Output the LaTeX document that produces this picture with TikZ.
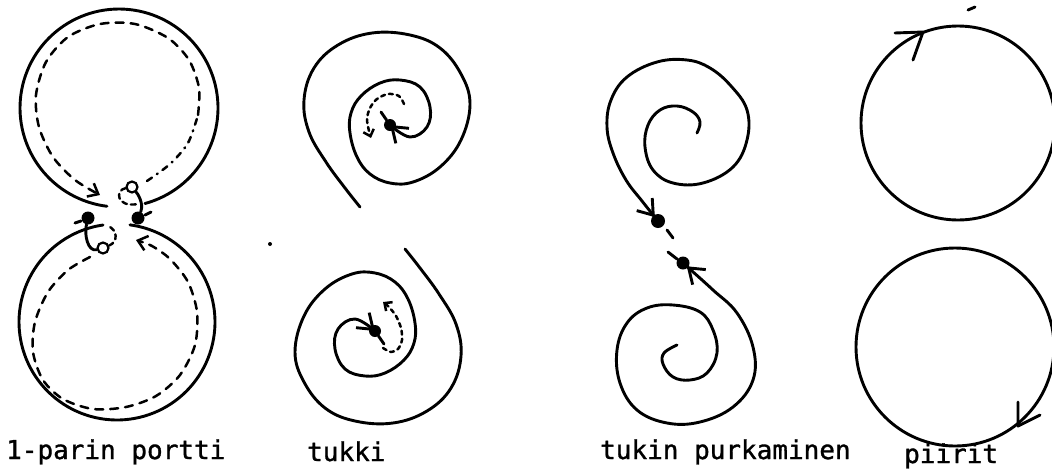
\documentclass[tikz,border=0pt]{standalone}
\usepackage{fontspec}
\newfontfamily\typew[FakeBold=1.2]{DejaVu Sans Mono}
\usetikzlibrary{arrows.meta}
\begin{document}
\begin{tikzpicture}[x=1pt,y=-1pt,
  ink/.style={line width=2.9pt, line cap=round, line join=round},
  dashink/.style={ink, line width=2.5pt, dash pattern=on 8pt off 7pt},
  dotink/.style={ink, line width=2.5pt, dash pattern=on 4pt off 4pt},
  dashdot/.style={ink, line width=2.5pt, dash pattern=on 6pt off 6pt on 1pt off 6pt},
  blob/.style={circle, fill=black, minimum size=13pt, inner sep=0pt},
  ring/.style={circle, draw, line width=2.2pt, minimum size=11pt, inner sep=0pt},
  barb/.style={-{Straight Barb[length=9pt,width=15pt]}},
  smallbarb/.style={-{Straight Barb[length=6pt,width=11pt]}},
  bigbarb/.style={-{Straight Barb[length=14pt,width=20pt]}},
  lbl/.style={font=\typew\fontsize{26}{26}\selectfont, anchor=base west, inner sep=0pt}
]
\useasboundingbox (0,0) rectangle (1052,472);

% ---------- panel 1: 1-parin portti ----------
\draw[ink] plot[domain=97:434.8, samples=120] ({119+99*cos(\x)},{108+99*sin(\x)});
\draw[ink] plot[domain=277.6:621.8, samples=120] ({117+98*cos(\x)},{322+98*sin(\x)});

\draw[dashdot] plot[smooth] coordinates {(147,181) (170,164) (188,143) (198,115)};
\draw[dashink, barb] plot[smooth] coordinates {(198,115) (199,88) (189,60) (168,38) (135,24) (100,24) (68,37) (46,62) (36,95) (39,127) (53,157) (75,180) (100,195)};
\draw[dashink, barb] plot[smooth] coordinates {(90,257) (68,270) (48,292) (35,322) (33,352) (43,380) (63,399) (93,409) (126,407) (156,396) (180,375) (195,345) (197,312) (188,282) (170,259) (152,246) (136,240)};

\node[ring] (oT) at (132,187) {};
\node[blob] (dR) at (138,218) {};
\node[ring] (oB) at (103,248) {};
\node[blob] (dL) at (88,218) {};
\draw[ink] (oT) .. controls (141,198) and (143,207) .. (dR);
\draw[ink, line width=2.4pt, dash pattern=on 5pt off 4pt] (oT) .. controls (115,190) and (116,208) .. (138,204);
\draw[ink] (dL) .. controls (84,235) and (88,252) .. (oB);
\draw[ink, line width=2.4pt, dash pattern=on 5pt off 4pt] (oB) .. controls (118,242) and (118,230) .. (108,226);
\coordinate (mR1) at (145,215); \coordinate (mR2) at (151,212);
\draw[ink] (mR1) -- (mR2);
\coordinate (mL1) at (75,223); \coordinate (mL2) at (81,221);
\draw[ink] (mL1) -- (mL2);

% ---------- panel 2: tukki ----------
\begin{scope}
\node[blob, minimum size=12pt] (tA) at (390,125) {};
\draw[ink, bigbarb] plot[smooth, tension=0.65] coordinates {(360,207) (345,188) (326,162) (309,132) (304,100) (314,68) (338,45) (372,33) (410,35) (440,48) (461,74) (470,104) (461,140) (440,167) (413,182) (390,183) (370,174) (357,157) (350,133) (351,113) (361,96) (380,83) (400,80) (420,87) (430,107) (427,127) (410,137) (390,125)};
\draw[ink] (tA) -- (381,112);
\end{scope}
\begin{scope}[shift={(765,456)}, xscale=-1, yscale=-1]
\node[blob, minimum size=12pt] (tB) at (390,125) {};
\draw[ink, bigbarb] plot[smooth, tension=0.65] coordinates {(360,207) (345,188) (326,162) (309,132) (304,100) (314,68) (338,45) (372,33) (410,35) (440,48) (461,74) (470,104) (461,140) (440,167) (413,182) (390,183) (370,174) (357,157) (350,133) (351,113) (361,96) (380,83) (400,80) (420,87) (430,107) (427,127) (410,137) (390,125)};
\draw[ink] (tB) -- (381,112);
\end{scope}
\draw[dotink, smallbarb] plot[smooth] coordinates {(404,104) (399,96) (388,94) (377,99) (370,108) (367,119) (369,131) (371,138)};
\draw[dotink, smallbarb] plot[smooth] coordinates {(383,348) (391,352) (398,349) (402,340) (401,328) (396,316) (389,307) (383,302)};
\node[circle, fill=black, inner sep=0pt, minimum size=4pt] (speck) at (270,244) {};

% ---------- panel 3: tukin purkaminen ----------
\node[blob, minimum size=14pt] (pA) at (658,221) {};
\node[blob, minimum size=13pt] (pB) at (683,263) {};
\draw[ink, bigbarb, shorten >=5pt] plot[smooth, tension=0.65] coordinates {(697,133) (700,122) (693,112) (677,106) (660,110) (648,125) (645,147) (653,170) (673,183) (703,183) (733,167) (747,140) (747,110) (731,86) (710,68) (687,60) (657,62) (627,77) (611,100) (607,127) (613,153) (626,180) (642,201) (658,221)};
\draw[ink, bigbarb, shorten >=5pt] plot[smooth, tension=0.65] coordinates {(677,345) (664,353) (663,364) (673,377) (690,380) (707,373) (717,353) (713,330) (700,312) (673,305) (647,308) (627,323) (617,350) (620,383) (637,410) (667,423) (700,422) (733,407) (753,380) (753,347) (737,313) (713,290) (692,271) (683,263)};
\coordinate (pa1) at (667,230); \coordinate (pa2) at (673,238);
\coordinate (pb1) at (668,252); \coordinate (pb2) at (677,259);
\draw[ink] (pa1) -- (pa2);
\draw[ink] (pb1) -- (pb2);

% ---------- panel 4: piirit ----------
\draw[ink] (958,123) circle (97);
\draw[ink] (955,347) circle (99);
\coordinate (tipT) at (923,32);
\draw[ink] (895,33) -- (tipT) -- (913,60);
\coordinate (tipB) at (1018,426);
\draw[ink] (1018,402) -- (tipB) -- (1040,415);
\coordinate (mk1) at (968,10); \coordinate (mk2) at (975,7);
\draw[ink] (mk1) -- (mk2);

% ---------- labels ----------
\node[lbl] (l1) at (6,459) {1-parin portti};
\node[lbl] (l2) at (307,461) {tukki};
\node[lbl] (l3) at (600,459) {tukin purkaminen};
\node[lbl] (l4) at (904,463) {piirit};
\end{tikzpicture}
\end{document}
